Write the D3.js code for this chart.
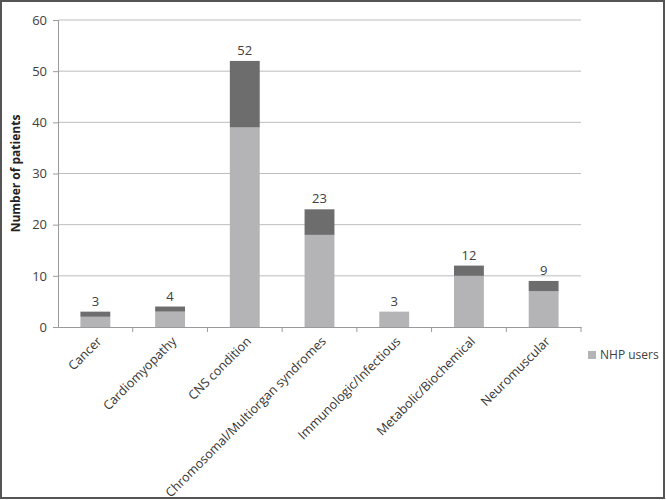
<!DOCTYPE html>
<meta charset="utf-8">
<script src="https://d3js.org/d3.v7.min.js"></script>
<style>
body { margin: 0; background: #fff; }
svg text { font-family: "Open Sans", "DejaVu Sans", sans-serif; fill: #404040; }
</style>
<body>
<svg width="666" height="500"></svg>
<script>
var categories = ["Cancer", "Cardiomyopathy", "CNS condition", "Chromosomal/Multiorgan syndromes",
                  "Immunologic/Infectious", "Metabolic/Biochemical", "Neuromuscular"];
var nhpUsers = [2, 3, 39, 18, 3, 10, 7];
var others   = [1, 1, 13, 5, 0, 2, 2];
var totals   = [3, 4, 52, 23, 3, 12, 9];
var yTicks   = [0, 10, 20, 30, 40, 50, 60];

var svg = d3.select('svg');
var plotL = 58, plotR = 581, plotT = 20, plotB = 327;

// frame of the picture
svg.append('rect').attr('x', 1).attr('y', 1).attr('width', 663).attr('height', 497)
  .attr('fill', 'none').attr('stroke', '#555').attr('stroke-width', 2);

var x = d3.scaleBand().domain(categories).range([plotL, plotR]).paddingInner(0.6).paddingOuter(0.3);
var y = d3.scaleLinear().domain([0, 60]).range([plotB, plotT]);

// grid
svg.append('g').selectAll('line').data(yTicks.slice(1)).enter().append('line')
  .attr('x1', plotL).attr('x2', plotR)
  .attr('y1', function(d){ return y(d); }).attr('y2', function(d){ return y(d); })
  .attr('stroke', '#bdbdbd').attr('stroke-width', 1);

// y axis
var yAxis = svg.append('g').attr('transform', 'translate(' + plotL + ',0)')
  .call(d3.axisLeft(y).tickValues(yTicks).tickSize(5).tickPadding(6));
yAxis.select('.domain').attr('stroke', '#9a9a9a');
yAxis.selectAll('.tick line').attr('stroke', '#9a9a9a');
yAxis.selectAll('text').attr('font-size', 13).style('fill', '#404040');

// stacked bars
var bars = svg.append('g');
bars.selectAll('rect.nhp').data(categories).enter().append('rect')
  .attr('class', 'nhp')
  .attr('x', function(d){ return x(d); }).attr('width', x.bandwidth())
  .attr('y', function(d, i){ return y(nhpUsers[i]); })
  .attr('height', function(d, i){ return y(0) - y(nhpUsers[i]); })
  .attr('fill', '#b4b4b6');
bars.selectAll('rect.other').data(categories).enter().append('rect')
  .attr('class', 'other')
  .attr('x', function(d){ return x(d); }).attr('width', x.bandwidth())
  .attr('y', function(d, i){ return y(nhpUsers[i] + others[i]); })
  .attr('height', function(d, i){ return y(nhpUsers[i]) - y(nhpUsers[i] + others[i]); })
  .attr('fill', '#6d6d6d');
bars.selectAll('text').data(categories).enter().append('text')
  .attr('x', function(d){ return x(d) + x.bandwidth() / 2; })
  .attr('y', function(d, i){ return y(totals[i]) - 6; })
  .attr('text-anchor', 'middle').attr('font-size', 13)
  .text(function(d, i){ return totals[i]; });

// x axis
var xb = d3.scaleBand().domain(categories).range([plotL, plotR]);
var xAxis = svg.append('g').attr('transform', 'translate(0,' + plotB + ')')
  .call(d3.axisBottom(xb).tickSize(0).tickFormat(''));
xAxis.select('.domain').attr('stroke', '#9a9a9a');
svg.append('g').selectAll('line').data(categories).enter().append('line')
  .attr('x1', function(d){ return xb(d) + xb.step(); })
  .attr('x2', function(d){ return xb(d) + xb.step(); })
  .attr('y1', plotB).attr('y2', plotB + 5).attr('stroke', '#9a9a9a');
svg.append('g').selectAll('text').data(categories).enter().append('text')
  .attr('transform', function(d){ return 'translate(' + (xb(d) + xb.bandwidth() / 2 + 4) + ',' + (plotB + 12) + ') rotate(-45)'; })
  .attr('text-anchor', 'end').attr('dy', '0.35em').attr('font-size', 12.6)
  .style('fill', '#333')
  .text(function(d){ return d; });

// y title
svg.append('text')
  .attr('transform', 'translate(20,' + ((plotT + plotB) / 2) + ') rotate(-90)')
  .attr('text-anchor', 'middle').attr('font-size', 12).attr('font-weight', 'bold')
  .style('fill', '#222')
  .text('Number of patients');

// legend
var lg = svg.append('g').attr('transform', 'translate(588,355)');
lg.append('rect').attr('x', 0).attr('y', -4).attr('width', 8).attr('height', 8).attr('fill', '#b4b4b6');
lg.append('text').attr('x', 12).attr('dy', '0.35em').attr('font-size', 12).text('NHP users');
</script>
